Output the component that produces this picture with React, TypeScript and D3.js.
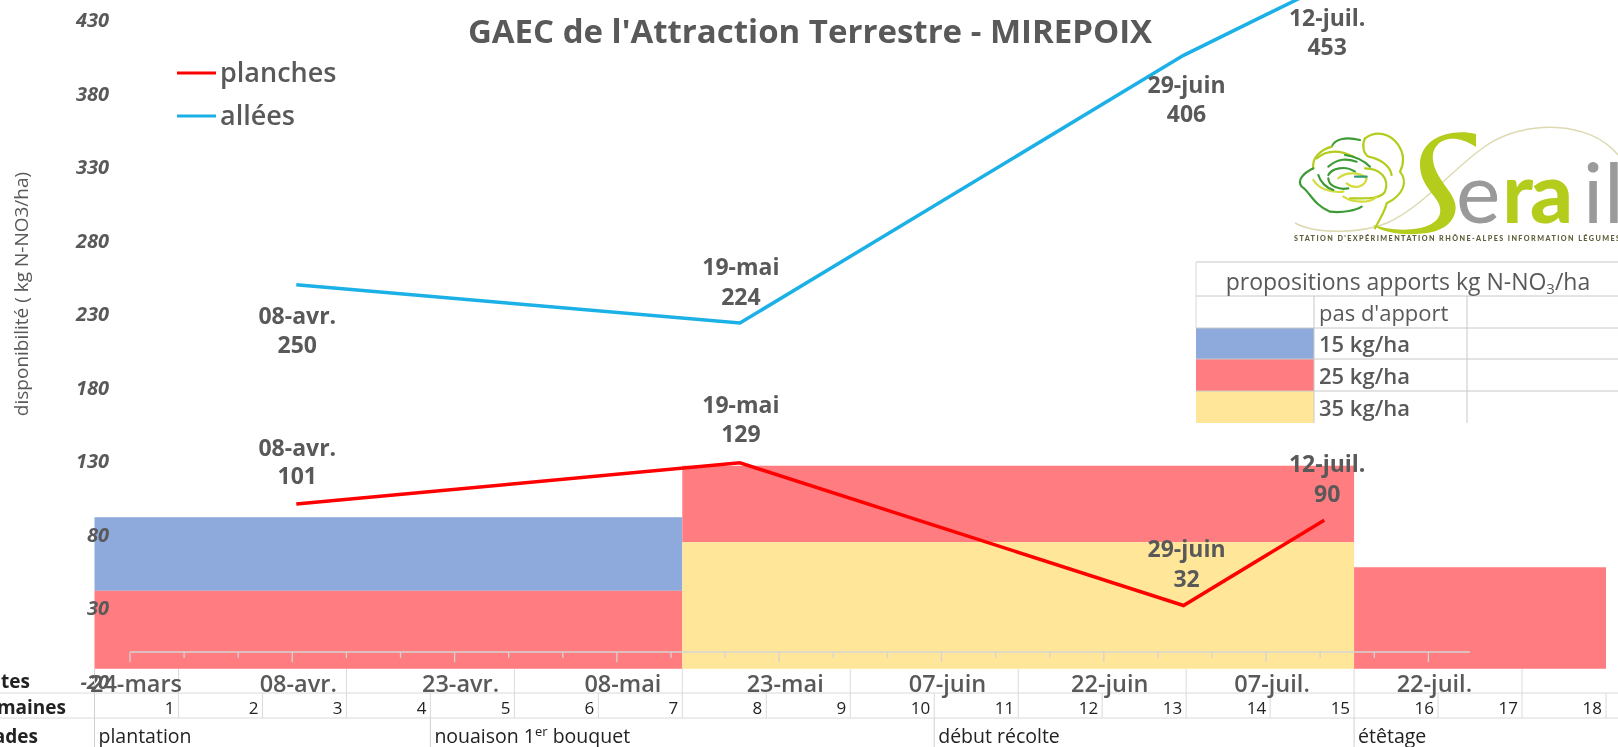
import React from "react";
import * as d3 from "d3";

const seriesDates = ["2014-04-08", "2014-05-19", "2014-06-29", "2014-07-12"];
const dateLabels = ["08-avr.", "19-mai", "29-juin", "12-juil."];
const planches = [101, 129, 32, 90];
const allees = [250, 224, 406, 453];
const yTicks = [430, 380, 330, 280, 230, 180, 130, 80, 30, -20];
const axisTickDates = ["24-mars", "08-avr.", "23-avr.", "08-mai", "23-mai", "07-juin", "22-juin", "07-juil.", "22-juil."];
const weeks = d3.range(1, 19);
const stades = [
  { week: 1, text: "plantation" },
  { week: 5, text: "nouaison 1", sup: "er", rest: " bouquet" },
  { week: 11, text: "début récolte" },
  { week: 16, text: "étêtage" },
];
const c15 = "#8EA9DB", c25 = "#FF7C80", c35 = "#FFE699";
// from week, to week, low value, high value, colour
const bands: [number, number, number, number, string][] = [
  [1, 7, 42, 92, c15],
  [1, 7, -11, 42, c25],
  [8, 15, 75, 127, c25],
  [8, 15, -11, 75, c35],
  [16, 18, -11, 58, c25],
];
const legendRows = ["pas d'apport", "15 kg/ha", "25 kg/ha", "35 kg/ha"];
const legendColors = ["none", c15, c25, c35];

const FONT = "'Open Sans', Lato, sans-serif";
const GREY = "#595959";
const W = 1618, H = 747;

const y = d3.scaleLinear().domain([430, -20]).range([20, 682]);
const t0 = new Date("2014-03-24T00:00:00Z");
const tEnd = d3.utcDay.offset(t0, 125);
const xAxis = d3.scaleUtc().domain([t0, tEnd]).range([130, 130 + 125 * 10.82]);
const x = (d: string) => xAxis(new Date(d + "T00:00:00Z")) + 4;
const wk = d3.scaleBand<number>().domain(weeks).range([94.5, 1606]);
const lineGen = d3.line<number>().x((_, i) => x(seriesDates[i])).y((v) => y(v));

const alleeOff = [[1, 39, 68], [1, -48, -18], [3, 38, 67], [3, 40, 69]];
const planchOff = [[1, -48, -20], [1, -50, -21], [3, -49, -19], [3, -48, -18]];
const labelDates = seriesDates.map((d) => x(d));

const G = "#B4CC1C", DG = "#3E9A35", YG = "#D2DC3C";
const rosePetals: [string, string][] = [
  ["M225 40 C260 15 300 25 325 60 C345 90 340 120 330 140 C355 170 340 210 290 235 C285 260 270 280 255 310", G],
  ["M210 45 C170 35 135 40 125 65", DG],
  ["M125 65 C90 75 65 100 70 130", G],
  ["M70 130 C40 145 20 165 35 185 C60 200 70 240 120 260 C160 265 200 255 215 245", DG],
  ["M225 40 C215 60 220 85 235 95 C265 100 300 120 305 150", G],
  ["M80 100 C110 75 150 75 190 95", G],
  ["M165 90 C200 95 225 110 240 125", DG],
  ["M115 125 C145 100 170 100 200 110", DG],
  ["M225 130 C270 130 300 160 285 200 C270 225 220 220 180 220", G],
  ["M70 165 C85 190 120 205 160 200", YG],
  ["M85 150 C90 170 110 190 130 195", DG],
  ["M115 150 C125 130 165 120 195 140", DG],
  ["M115 160 C115 185 150 195 175 190", DG],
  ["M145 160 C165 140 210 140 230 160 C225 185 195 195 170 175", YG],
  ["M195 155 L230 155", "#2E9A78"],
  ["M160 215 C190 235 240 235 260 215", YG],
];

function Logo() {
  return (
    <g>
      <path d="M1295 223 C1317 235 1363 233 1387 223 C1423 207 1453 168 1487 145 C1525 120 1590 120 1618 155" fill="none" stroke="#DDD9B0" strokeWidth={1.5} />
      <g transform="translate(1290,125) scale(0.3333)" fill="none" strokeLinecap="round" strokeWidth={6.5}>
        {rosePetals.map(([d, c], i) => <path key={i} d={d} stroke={c} />)}
      </g>
      <path d="M1476 134 C1450 128 1420 138 1420 165 C1420 182 1432 192 1438 202 C1444 214 1438 224 1420 228 C1400 232 1385 228 1373 225 C1385 235 1415 236 1432 232 C1450 228 1458 215 1455 203 C1452 190 1435 178 1433 160 C1431 142 1450 130 1476 147 Z" fill={G} />
      <g fontFamily="Lato, sans-serif" fontSize={84}>
        <text x={1456} y={223} fill="#9A9A9A">e</text>
        <text x={1502} y={223} fill={G} fontWeight={700}>r</text>
        <text x={1530} y={223} fill={G} fontWeight={900}>a</text>
        <text x={1583} y={223} fill="#9A9A9A">i</text>
        <text x={1604} y={223} fill="#9A9A9A">l</text>
      </g>
      <text x={1294} y={241} fontFamily="Lato, sans-serif" fontSize={7.2} fontWeight={900} fill="#5E5E3A" textLength={326}>
        STATION D'EXPÉRIMENTATION RHÔNE-ALPES INFORMATION LÉGUMES
      </text>
    </g>
  );
}

export default function App() {
  const rowsY = [262, 296, 328, 359, 391, 423];
  return (
    <svg width={W} height={H} viewBox={`0 0 ${W} ${H}`}
      style={{ position: "fixed", left: 0, top: 0, background: "#fff", filter: "blur(0.6px)" }}>
      {bands.map(([a, b, lo, hi, col], i) => (
        <rect key={i} x={wk(a)!} width={wk(b)! + wk.bandwidth() - wk(a)!} y={y(hi)} height={y(lo) - y(hi)} fill={col} />
      ))}

      {/* time axis */}
      <line x1={xAxis(t0)} x2={1470} y1={652} y2={652} stroke="#D4D4D4" strokeWidth={1.5} />
      {d3.range(0, 125, 5).filter((d) => xAxis(d3.utcDay.offset(t0, d)) <= 1470).map((d) => {
        const px = xAxis(d3.utcDay.offset(t0, d));
        return <line key={d} x1={px} x2={px} y1={652} y2={d % 15 === 0 ? 662 : 658} stroke="#D4D4D4" strokeWidth={1.3} />;
      })}

      {/* y ticks */}
      {yTicks.map((v) => (
        <text key={v} x={109} y={y(v) + 7} textAnchor="end" fontFamily={FONT} fontSize={20} fontStyle="italic" fontWeight={700} fill={GREY}>{v}</text>
      ))}
      <text transform="translate(28,294) rotate(-90)" textAnchor="middle" fontFamily={FONT} fontSize={19} fill={GREY}>disponibilité ( kg N-NO3/ha)</text>

      {/* table */}
      {[693, 718].map((py) => <line key={py} x1={0} x2={W} y1={py} y2={py} stroke="#DADADA" />)}
      <line x1={94.5} x2={94.5} y1={669} y2={747} stroke="#CFCFCF" />
      {weeks.map((w) => {
        const px = wk(w)! + wk.bandwidth();
        return (
          <g key={w}>
            {w % 2 === 1 && <line x1={px} x2={px} y1={669} y2={693} stroke="#DADADA" />}
            <line x1={px} x2={px} y1={693} y2={718} stroke="#DADADA" />
            <text x={px - 4} y={714} textAnchor="end" fontFamily={FONT} fontSize={17} fill="#222">{w}</text>
          </g>
        );
      })}
      {stades.map((s) => (
        <g key={s.week}>
          <line x1={wk(s.week)!} x2={wk(s.week)!} y1={718} y2={747} stroke="#CFCFCF" />
          <text x={wk(s.week)! + 4} y={743} fontFamily={FONT} fontSize={19.5} fill="#222">
            {s.text}
            {s.sup && <tspan dy={-7} fontSize={13}>{s.sup}</tspan>}
            {s.rest && <tspan dy={7}>{s.rest}</tspan>}
          </text>
        </g>
      ))}
      {[["dates", 30, 688], ["semaines", 66, 714], ["stades", 38, 743]].map(([t, px, py]) => (
        <text key={t as string} x={px as number} y={py as number} textAnchor="end" fontFamily={FONT} fontSize={19} fontWeight={700} fill="#222">{t}</text>
      ))}
      {axisTickDates.map((t, i) => (
        <text key={t} x={xAxis(d3.utcDay.offset(t0, i * 15)) + 6} y={692} textAnchor="middle" fontFamily={FONT} fontSize={23.5} fill={GREY} fontWeight={600}>{t}</text>
      ))}

      {/* series */}
      <path d={lineGen(allees)!} fill="none" stroke="#1BB0E6" strokeWidth={3.5} />
      <path d={lineGen(planches)!} fill="none" stroke="#FF0000" strokeWidth={3.5} />
      {[{ v: allees, o: alleeOff }, { v: planches, o: planchOff }].flatMap(({ v, o }, si) =>
        v.map((val, i) => (
          <g key={si + "-" + i} fontFamily={FONT} fontSize={23} fontWeight={700} fill={GREY} textAnchor="middle">
            <text x={labelDates[i] + o[i][0]} y={y(val) + o[i][1]}>{dateLabels[i]}</text>
            <text x={labelDates[i] + o[i][0]} y={y(val) + o[i][2]}>{val}</text>
          </g>
        ))
      )}

      {/* title and legend */}
      <text x={810} y={43} textAnchor="middle" fontFamily={FONT} fontSize={33} fontWeight={700} fill={GREY}>GAEC de l'Attraction Terrestre - MIREPOIX</text>
      <line x1={177} x2={216} y1={73} y2={73} stroke="#FF0000" strokeWidth={3} />
      <line x1={177} x2={216} y1={116} y2={116} stroke="#1BB0E6" strokeWidth={3} />
      <text x={220} y={82} fontFamily={FONT} fontSize={27} fontWeight={600} fill={GREY}>planches</text>
      <text x={220} y={125} fontFamily={FONT} fontSize={27} fontWeight={600} fill={GREY}>allées</text>

      <Logo />

      {/* proposals table */}
      <rect x={1196} y={262} width={422} height={161} fill="#fff" />
      {legendRows.map((r, i) => (
        <g key={r}>
          {legendColors[i] !== "none" && <rect x={1196} y={rowsY[i + 1]} width={118} height={rowsY[i + 2] - rowsY[i + 1]} fill={legendColors[i]} />}
          <text x={1319} y={rowsY[i + 2] - 7} fontFamily={FONT} fontSize={22} fill={GREY} fontWeight={i ? 600 : 400}>{r}</text>
        </g>
      ))}
      {rowsY.slice(0, 5).map((py) => <line key={py} x1={1196} x2={W} y1={py} y2={py} stroke="#C8C8C8" />)}
      <line x1={1196} x2={1196} y1={262} y2={328} stroke="#D8D8D8" />
      <line x1={1314} x2={1314} y1={296} y2={423} stroke="#C8C8C8" />
      <line x1={1467} x2={1467} y1={296} y2={423} stroke="#C8C8C8" />
      <text x={1408} y={290} textAnchor="middle" fontFamily={FONT} fontSize={23} fill={GREY}>
        propositions apports kg N-NO<tspan dy={4} fontSize={15}>3</tspan><tspan dy={-4}>/ha</tspan>
      </text>
    </svg>
  );
}
